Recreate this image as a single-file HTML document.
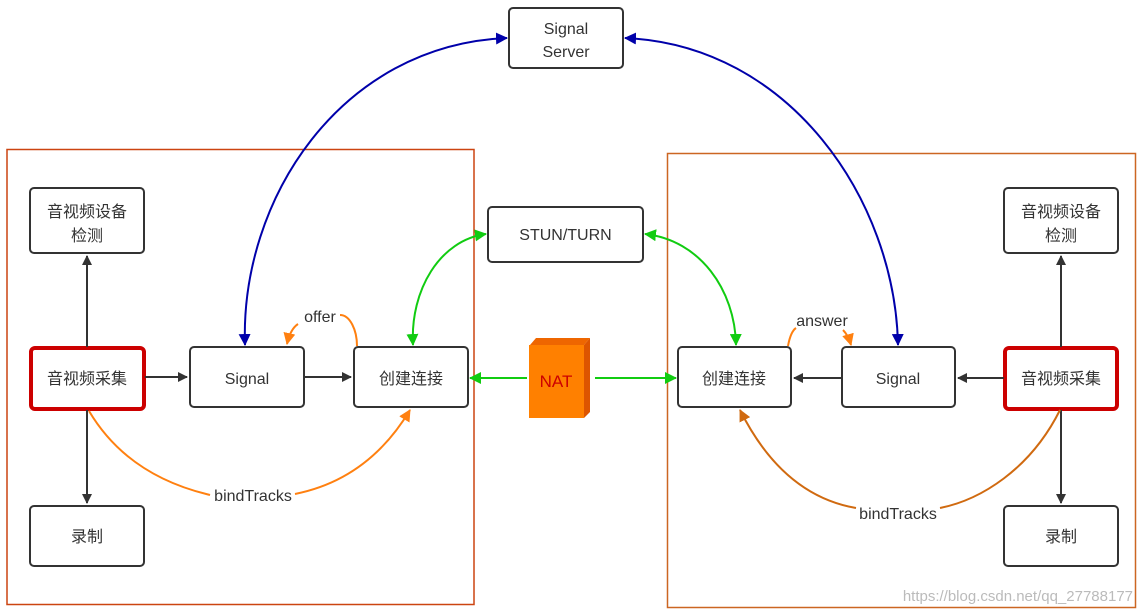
<!DOCTYPE html>
<html><head><meta charset="utf-8"><style>
html,body{margin:0;padding:0;background:#fff;}
svg{display:block;}
text{font-family:"Liberation Sans","Noto Sans CJK SC",sans-serif;font-size:16px;fill:#333;}
</style></head><body>
<svg width="1142" height="614" viewBox="0 0 1142 614" xmlns="http://www.w3.org/2000/svg">
<defs>
<marker id="ak" markerWidth="10" markerHeight="10" refX="9" refY="5" orient="auto" markerUnits="userSpaceOnUse" viewBox="0 0 10 10"><path d="M0,0 L10,5 L0,10 z" fill="#333"/></marker>
<marker id="ab" markerWidth="12" markerHeight="12" refX="11" refY="6" orient="auto-start-reverse" markerUnits="userSpaceOnUse" viewBox="0 0 12 12"><path d="M0,0 L12,6 L0,12 z" fill="#0000aa"/></marker>
<marker id="ag" markerWidth="12" markerHeight="12" refX="11" refY="6" orient="auto-start-reverse" markerUnits="userSpaceOnUse" viewBox="0 0 12 12"><path d="M0,0 L12,6 L0,12 z" fill="#11cc11"/></marker>
<marker id="ao" markerWidth="12" markerHeight="12" refX="11" refY="6" orient="auto" markerUnits="userSpaceOnUse" viewBox="0 0 12 12"><path d="M0,0 L12,6 L0,12 z" fill="#ff8010"/></marker>
<marker id="ao2" markerWidth="12" markerHeight="12" refX="11" refY="6" orient="auto" markerUnits="userSpaceOnUse" viewBox="0 0 12 12"><path d="M0,0 L12,6 L0,12 z" fill="#d06a10"/></marker>
</defs>
<!-- frames -->
<rect x="7" y="149.5" width="467" height="455" fill="none" stroke="#cc4411" stroke-width="1.5"/>
<rect x="667.5" y="153.5" width="468" height="454" fill="none" stroke="#cc6622" stroke-width="1.5"/>

<!-- boxes -->
<g fill="#fff" stroke="#333" stroke-width="2">
<rect x="509" y="8" width="114" height="60" rx="4"/>
<rect x="488" y="207" width="155" height="55" rx="4"/>
<rect x="30" y="188" width="114" height="65" rx="4"/>
<rect x="190" y="347" width="114" height="60" rx="4"/>
<rect x="354" y="347" width="114" height="60" rx="4"/>
<rect x="30" y="506" width="114" height="60" rx="4"/>
<rect x="678" y="347" width="113" height="60" rx="4"/>
<rect x="842" y="347" width="113" height="60" rx="4"/>
<rect x="1004" y="188" width="114" height="65" rx="4"/>
<rect x="1004" y="506" width="114" height="60" rx="4"/>
</g>
<g fill="#fff" stroke="#cc0000" stroke-width="4">
<rect x="31" y="348" width="113" height="61" rx="4"/>
<rect x="1005" y="348" width="112" height="61" rx="4"/>
</g>
<!-- NAT -->
<polygon points="530,345 536,338 590,338 584,345" fill="#ee6600"/>
<polygon points="584,345 590,338 590,412 584,418" fill="#dd5500"/>
<rect x="529" y="345" width="55" height="73" fill="#ff8000"/>
<text x="556" y="387" text-anchor="middle" style="fill:#cc0000;font-size:17px">NAT</text>

<!-- black arrows -->
<g stroke="#333" stroke-width="2" fill="none">
<line x1="87" y1="347" x2="87" y2="256" marker-end="url(#ak)"/>
<line x1="87" y1="410" x2="87" y2="503" marker-end="url(#ak)"/>
<line x1="145" y1="377" x2="187" y2="377" marker-end="url(#ak)"/>
<line x1="304" y1="377" x2="351" y2="377" marker-end="url(#ak)"/>
<line x1="1061" y1="347" x2="1061" y2="256" marker-end="url(#ak)"/>
<line x1="1061" y1="410" x2="1061" y2="503" marker-end="url(#ak)"/>
<line x1="1004" y1="378" x2="958" y2="378" marker-end="url(#ak)"/>
<line x1="842" y1="378" x2="794" y2="378" marker-end="url(#ak)"/>
</g>
<!-- blue -->
<g stroke="#0000aa" stroke-width="2" fill="none">
<path d="M245,345 C240,200 340,45 507,38" marker-start="url(#ab)" marker-end="url(#ab)"/>
<path d="M625,38 C790,45 895,200 898,345" marker-start="url(#ab)" marker-end="url(#ab)"/>
</g>
<!-- green -->
<g stroke="#11cc11" stroke-width="2" fill="none">
<path d="M413,345 C410,290 440,240 486,234" marker-start="url(#ag)" marker-end="url(#ag)"/>
<path d="M645,234 C700,240 735,290 736,345" marker-start="url(#ag)" marker-end="url(#ag)"/>
<line x1="527" y1="378" x2="470" y2="378" marker-end="url(#ag)"/>
<line x1="595" y1="378" x2="676" y2="378" marker-end="url(#ag)"/>
</g>
<!-- orange -->
<g stroke="#ff8010" stroke-width="2" fill="none">
<path d="M357,346 C357,330 350,315 340,315"/>
<path d="M298,324 C292,328 289,335 287,344" marker-end="url(#ao)"/>
<path d="M89,411 C130,480 200,492 210,495"/>
<path d="M295,494 C340,485 380,460 410,410" marker-end="url(#ao)"/>
<path d="M788,346 C790,335 793,330 796,328"/>
<path d="M843,330 C846,333 849,338 851,345" marker-end="url(#ao)"/>
</g>
<g stroke="#d06a10" stroke-width="2" fill="none">
<path d="M1060,410 C1030,470 980,500 940,508"/>
<path d="M856,508 C810,500 770,470 740,410" marker-end="url(#ao2)"/>
</g>

<!-- labels -->
<text x="566" y="34" text-anchor="middle">Signal</text>
<text x="566" y="57" text-anchor="middle">Server</text>
<text x="565.5" y="240" text-anchor="middle">STUN/TURN</text>
<text x="87" y="217" text-anchor="middle">音视频设备</text>
<text x="87" y="241" text-anchor="middle">检测</text>
<text x="87" y="384" text-anchor="middle">音视频采集</text>
<text x="247" y="384" text-anchor="middle">Signal</text>
<text x="411" y="384" text-anchor="middle">创建连接</text>
<text x="87" y="542" text-anchor="middle">录制</text>
<text x="734" y="384" text-anchor="middle">创建连接</text>
<text x="898" y="384" text-anchor="middle">Signal</text>
<text x="1061" y="384" text-anchor="middle">音视频采集</text>
<text x="1061" y="217" text-anchor="middle">音视频设备</text>
<text x="1061" y="241" text-anchor="middle">检测</text>
<text x="1061" y="542" text-anchor="middle">录制</text>
<text x="320" y="322" text-anchor="middle">offer</text>
<text x="822" y="326" text-anchor="middle">answer</text>
<text x="253" y="501" text-anchor="middle">bindTracks</text>
<text x="898" y="519" text-anchor="middle">bindTracks</text>
<text x="1133" y="601" text-anchor="end" style="fill:#bbb;font-size:15px">https://blog.csdn.net/qq_27788177</text>
</svg>
</body></html>
